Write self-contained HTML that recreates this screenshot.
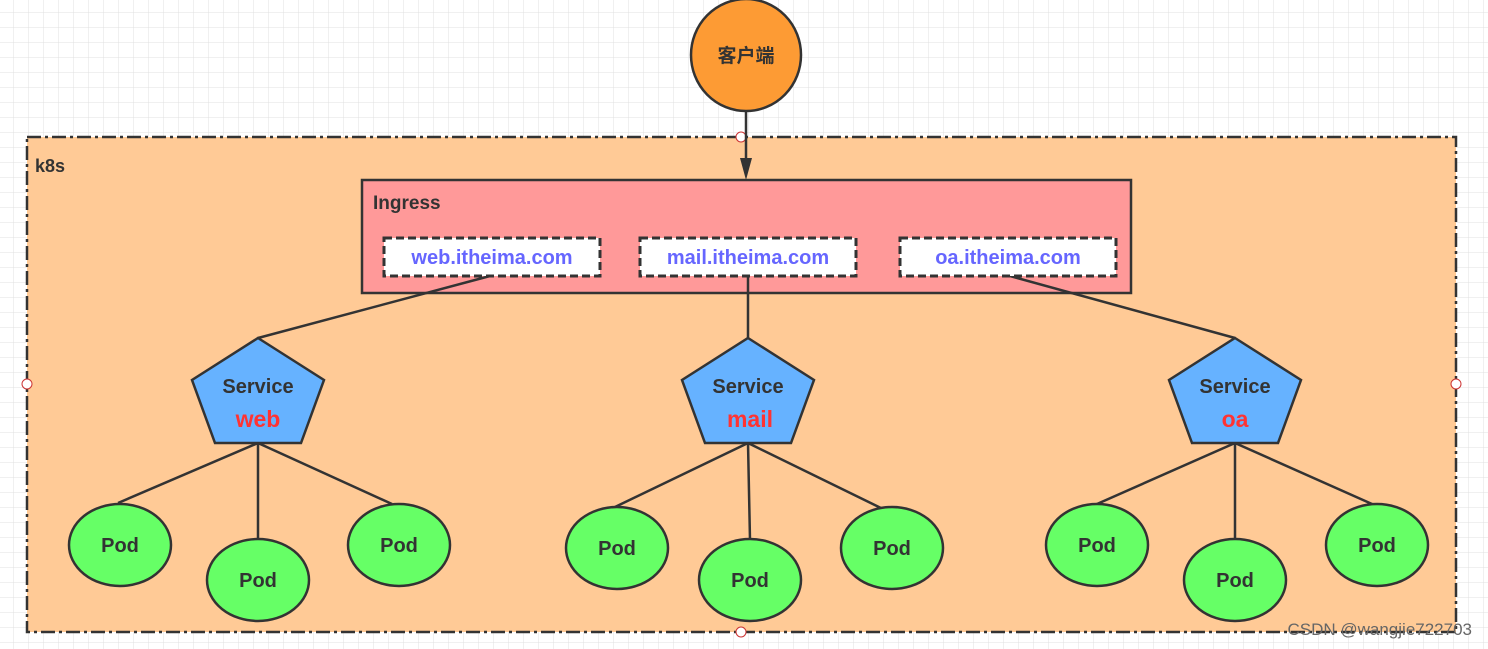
<!DOCTYPE html>
<html><head><meta charset="utf-8"><style>
html,body{margin:0;padding:0;background:#fff;}
svg{display:block;}
text{font-family:"Liberation Sans","Noto Sans CJK SC",sans-serif;font-weight:bold;}
</style></head><body>
<svg width="1488" height="649" viewBox="0 0 1488 649" xmlns="http://www.w3.org/2000/svg">
<defs>
<pattern id="g" width="15" height="15" patternUnits="userSpaceOnUse" x="-1" y="-2">
<path d="M15 0V15M0 15H15" stroke="#e0e0e0" stroke-width="1" fill="none"/>
</pattern>
</defs>
<rect width="1488" height="649" fill="#fff"/>
<rect width="1488" height="649" fill="url(#g)"/>
<rect x="27" y="137" width="1429" height="495" fill="#ffca96" stroke="#333" stroke-width="2.5" stroke-dasharray="14,4,3,4"/>
<text x="35" y="172" font-size="18" fill="#333">k8s</text>
<circle cx="741" cy="137" r="5" fill="#fff" stroke="#c33" stroke-width="1"/>
<circle cx="27" cy="384" r="5" fill="#fff" stroke="#c33" stroke-width="1"/>
<circle cx="1456" cy="384" r="5" fill="#fff" stroke="#c33" stroke-width="1"/>
<circle cx="741" cy="632" r="5" fill="#fff" stroke="#c33" stroke-width="1"/>
<ellipse cx="746" cy="55" rx="55" ry="56" fill="#fd9b34" stroke="#333" stroke-width="2.5"/>
<text x="746" y="62" font-size="19" fill="#333" text-anchor="middle">客户端</text>
<line x1="746" y1="111" x2="746" y2="162" stroke="#333" stroke-width="2.5"/>
<polygon points="740,158 752,158 746,180" fill="#333"/>
<rect x="362" y="180" width="769" height="113" fill="#ff9999" stroke="#333" stroke-width="2.5"/>
<text x="373" y="209" font-size="19" fill="#333">Ingress</text>
<g stroke="#333" stroke-width="2.5" fill="none">
<line x1="490" y1="276" x2="258" y2="338"/>
<line x1="748" y1="276" x2="748" y2="338"/>
<line x1="1010" y1="276" x2="1235" y2="338"/>
</g>
<g fill="#fff" stroke="#333" stroke-width="3" stroke-dasharray="8,4">
<rect x="384" y="238" width="216" height="38"/>
<rect x="640" y="238" width="216" height="38"/>
<rect x="900" y="238" width="216" height="38"/>
</g>
<g font-size="20" fill="#6666ff" text-anchor="middle">
<text x="492" y="264">web.itheima.com</text>
<text x="748" y="264">mail.itheima.com</text>
<text x="1008" y="264">oa.itheima.com</text>
</g>
<g stroke="#333" stroke-width="2.5" fill="none">
<path d="M258 443L118 503M258 443V540M258 443L392 504"/>
<path d="M748 443L615 507M748 443L750 540M748 443L885 510"/>
<path d="M1235 443L1097 504M1235 443V540M1235 443L1372 504"/>
</g>
<g fill="#66b2ff" stroke="#333" stroke-width="2.5">
<polygon points="258,338 324,380 301,443 215,443 192,380"/>
<polygon points="748,338 814,380 791,443 705,443 682,380"/>
<polygon points="1235,338 1301,380 1278,443 1192,443 1169,380"/>
</g>
<g font-size="20" text-anchor="middle">
<text x="258" y="393" fill="#333">Service</text><text x="258" y="427" fill="#ff3333" font-size="23">web</text>
<text x="748" y="393" fill="#333">Service</text><text x="750" y="427" fill="#ff3333" font-size="23">mail</text>
<text x="1235" y="393" fill="#333">Service</text><text x="1235" y="427" fill="#ff3333" font-size="23">oa</text>
</g>
<g fill="#66ff66" stroke="#333" stroke-width="2.5">
<ellipse cx="120" cy="545" rx="51" ry="41"/>
<ellipse cx="258" cy="580" rx="51" ry="41"/>
<ellipse cx="399" cy="545" rx="51" ry="41"/>
<ellipse cx="617" cy="548" rx="51" ry="41"/>
<ellipse cx="750" cy="580" rx="51" ry="41"/>
<ellipse cx="892" cy="548" rx="51" ry="41"/>
<ellipse cx="1097" cy="545" rx="51" ry="41"/>
<ellipse cx="1235" cy="580" rx="51" ry="41"/>
<ellipse cx="1377" cy="545" rx="51" ry="41"/>
</g>
<g font-size="20" fill="#333" text-anchor="middle">
<text x="120" y="552">Pod</text><text x="258" y="587">Pod</text><text x="399" y="552">Pod</text>
<text x="617" y="555">Pod</text><text x="750" y="587">Pod</text><text x="892" y="555">Pod</text>
<text x="1097" y="552">Pod</text><text x="1235" y="587">Pod</text><text x="1377" y="552">Pod</text>
</g>
<text x="1472" y="635" font-size="17" fill="#666" text-anchor="end" style="font-weight:normal">CSDN @wangjie722703</text>
</svg>
</body></html>
